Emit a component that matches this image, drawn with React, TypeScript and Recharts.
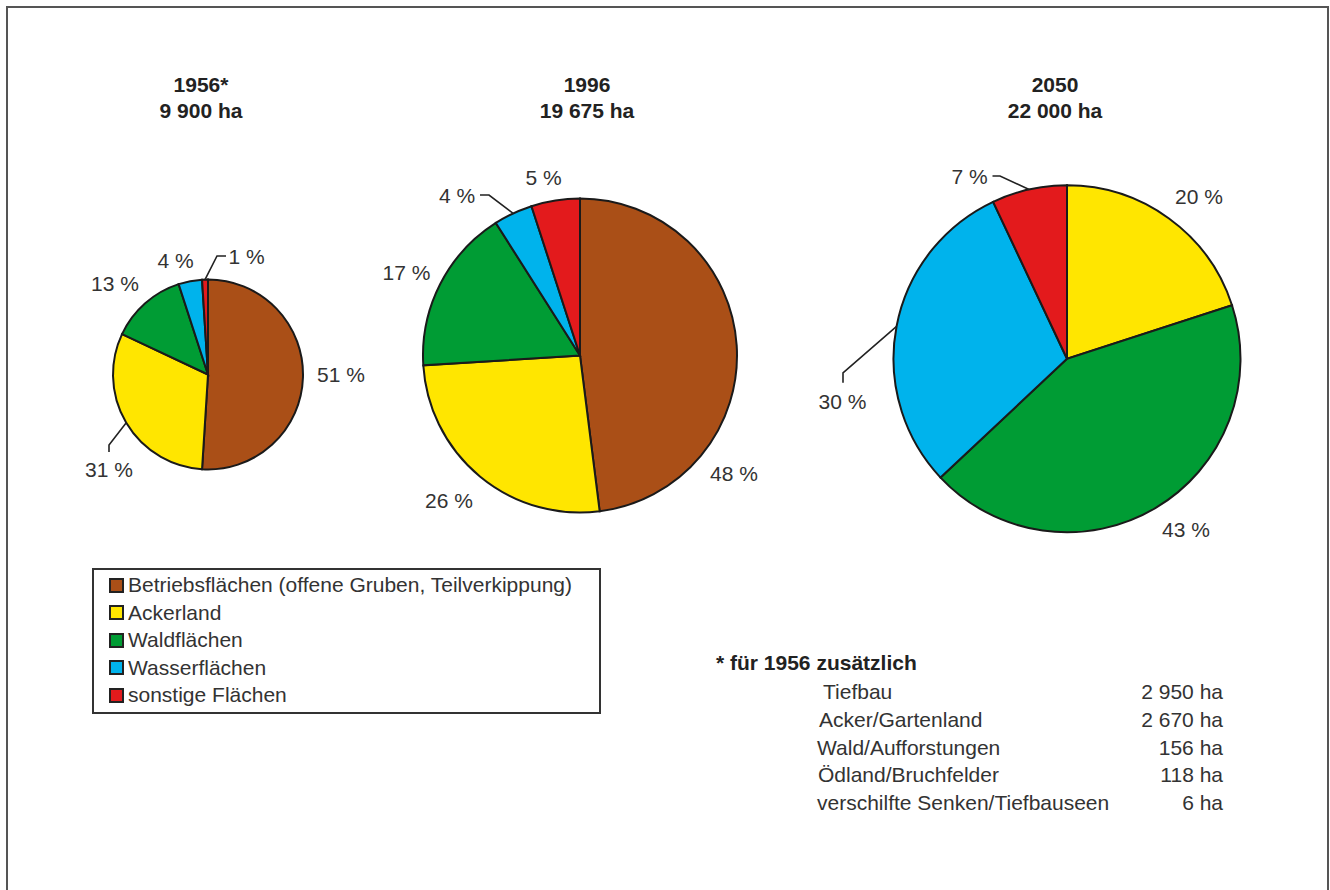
import React from 'react';
import { PieChart, Pie, Cell } from 'recharts';

// ---- data ----
const categories = [
  'Betriebsflächen (offene Gruben, Teilverkippung)',
  'Ackerland',
  'Waldflächen',
  'Wasserflächen',
  'sonstige Flächen',
];
const values1956 = [51, 31, 13, 4, 1];
const values1996 = [48, 26, 17, 4, 5];
const values2050 = [0, 20, 43, 30, 7];
const years = ['1956*', '1996', '2050'];
const areas = ['9 900 ha', '19 675 ha', '22 000 ha'];
const extraTitle = '* für 1956 zusätzlich';
const extraNames = ['Tiefbau', 'Acker/Gartenland', 'Wald/Aufforstungen', 'Ödland/Bruchfelder', 'verschilfte Senken/Tiefbauseen'];
const extraValues = ['2 950 ha', '2 670 ha', '156 ha', '118 ha', '6 ha'];

// ---- style / layout ----
const colors = ['#AA4F17', '#FFE600', '#009C34', '#00B3EC', '#E31A1C'];
const FONT = '"Liberation Sans", Arial, sans-serif';
const TEXT = '#333333';
const extraNameX = [823, 819, 817, 818, 817];

type LabelPos = { dx: number; dy: number; line?: [number, number][] };
type PieLayout = { cx: number; cy: number; r: number; titleX: number; labels: Record<number, LabelPos> };

const layouts: PieLayout[] = [
  {
    cx: 208, cy: 374.5, r: 95, titleX: 201,
    labels: {
      0: { dx: 133, dy: 0 },
      1: { dx: -99, dy: 94.5, line: [[-99, 70.5], [-99, 77.5]] },
      2: { dx: -93, dy: -91.5 },
      3: { dx: -32.5, dy: -114.5 },
      4: { dx: 38.5, dy: -118.5, line: [[9, -118.5], [18, -118.5]] },
    },
  },
  {
    cx: 580, cy: 355.5, r: 157, titleX: 587,
    labels: {
      0: { dx: 154, dy: 117.5 },
      1: { dx: -131, dy: 144.5 },
      2: { dx: -173.5, dy: -83 },
      3: { dx: -123, dy: -160.5, line: [[-91, -160.5], [-100, -160.5]] },
      4: { dx: -36.5, dy: -178.5 },
    },
  },
  {
    cx: 1067, cy: 358.8, r: 173.5, titleX: 1055,
    labels: {
      1: { dx: 132, dy: -162 },
      2: { dx: 119, dy: 171 },
      3: { dx: -224.5, dy: 43, line: [[-224, 14], [-224, 24]] },
      4: { dx: -97.5, dy: -182.8, line: [[-67, -182.8], [-74.5, -182.8]] },
    },
  },
];

const seriesList = [values1956, values1996, values2050];

const makeData = (vals: number[]) =>
  vals
    .map((v, i) => ({ name: categories[i], value: v, cat: i }))
    .filter((d) => d.value > 0);

const RAD = Math.PI / 180;

const makeLabel = (layout: PieLayout) => (props: any) => {
  const { cx, cy, midAngle, outerRadius } = props;
  const cat = props.payload?.cat ?? props.cat;
  const pos = layout.labels[cat];
  if (!pos) return null;
  const tx = cx + pos.dx;
  const ty = cy + pos.dy;
  let line: React.ReactNode = null;
  if (pos.line) {
    const sx = cx + outerRadius * Math.cos(-midAngle * RAD);
    const sy = cy + outerRadius * Math.sin(-midAngle * RAD);
    const pts = [[sx, sy], ...pos.line.map(([x, y]) => [cx + x, cy + y])];
    line = (
      <polyline
        points={pts.map((p) => p.join(',')).join(' ')}
        fill="none"
        stroke="#222"
        strokeWidth={1.6}
      />
    );
  }
  return (
    <g key={`l-${cat}`}>
      {line}
      <text
        x={tx}
        y={ty}
        textAnchor="middle"
        dominantBaseline="central"
        fontSize={21}
        fontFamily={FONT}
        fill={TEXT}
      >
        {`${props.value} %`}
      </text>
    </g>
  );
};

export default function App() {
  return (
    <div
      style={{
        position: 'absolute',
        left: 0,
        top: 0,
        width: 1330,
        height: 890,
        background: '#fff',
        overflow: 'hidden',
        fontFamily: FONT,
      }}
    >
      {/* frame */}
      <div
        style={{
          position: 'absolute',
          left: 6,
          top: 6,
          width: 1323,
          height: 920,
          border: '2px solid #555',
          boxSizing: 'border-box',
        }}
      />
      <div style={{ position: 'absolute', left: 0, top: 0 }}>
        <PieChart width={1330} height={890} margin={{ top: 0, right: 0, bottom: 0, left: 0 }}>
          {layouts.map((lay, k) => {
            const data = makeData(seriesList[k]);
            return (
              <Pie
                key={years[k]}
                data={data}
                dataKey="value"
                nameKey="name"
                cx={lay.cx}
                cy={lay.cy}
                outerRadius={lay.r}
                innerRadius={0}
                startAngle={90}
                endAngle={-270}
                stroke="#1a1a1a"
                strokeWidth={2}
                isAnimationActive={false}
                labelLine={false}
                label={makeLabel(lay)}
              >
                {data.map((d) => (
                  <Cell key={d.cat} fill={colors[d.cat]} />
                ))}
              </Pie>
            );
          })}
        </PieChart>
      </div>

      {/* titles */}
      {layouts.map((lay, k) => (
        <div
          key={`t-${k}`}
          style={{
            position: 'absolute',
            left: lay.titleX - 120,
            width: 240,
            top: 72,
            textAlign: 'center',
            fontWeight: 'bold',
            fontSize: 21,
            lineHeight: '26px',
            color: '#222',
          }}
        >
          <div>{years[k]}</div>
          <div>{areas[k]}</div>
        </div>
      ))}

      {/* legend */}
      <div
        style={{
          position: 'absolute',
          left: 92,
          top: 568,
          width: 509,
          height: 146,
          border: '2px solid #333',
          boxSizing: 'border-box',
        }}
      >
        {categories.map((c, i) => (
          <div
            key={c}
            style={{
              position: 'absolute',
              left: 15,
              top: 17 + i * 27.5 - 14 - 2,
              height: 28,
              display: 'flex',
              alignItems: 'center',
              fontSize: 21,
              color: TEXT,
              whiteSpace: 'nowrap',
            }}
          >
            <span
              style={{
                display: 'inline-block',
                width: 15,
                height: 15,
                background: colors[i],
                border: '2px solid #222',
                boxSizing: 'border-box',
                marginRight: 4,
              }}
            />
            <span>{c}</span>
          </div>
        ))}
      </div>

      {/* footnote */}
      <div
        style={{
          position: 'absolute',
          left: 716,
          top: 649,
          fontSize: 21,
          lineHeight: '27px',
          fontWeight: 'bold',
          color: '#222',
          whiteSpace: 'nowrap',
        }}
      >
        {extraTitle}
      </div>
      {extraNames.map((n, i) => (
        <React.Fragment key={n}>
          <div
            style={{
              position: 'absolute',
              left: extraNameX[i],
              top: 678 + i * 27.8,
              fontSize: 21,
              lineHeight: '28px',
              color: TEXT,
              whiteSpace: 'nowrap',
            }}
          >
            {n}
          </div>
          <div
            style={{
              position: 'absolute',
              left: 1023,
              width: 200,
              top: 678 + i * 27.8,
              textAlign: 'right',
              fontSize: 21,
              lineHeight: '28px',
              color: TEXT,
              whiteSpace: 'nowrap',
            }}
          >
            {extraValues[i]}
          </div>
        </React.Fragment>
      ))}
    </div>
  );
}
